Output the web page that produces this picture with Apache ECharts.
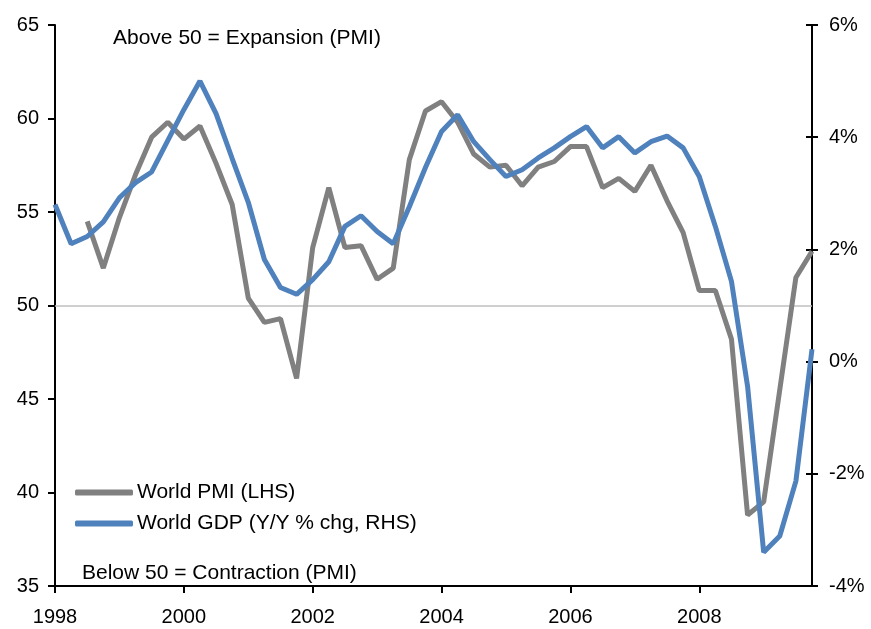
<!DOCTYPE html>
<html>
<head>
<meta charset="utf-8">
<script src="https://cdn.jsdelivr.net/npm/echarts@6/dist/echarts.min.js"></script>
<style>
  html, body { margin: 0; padding: 0; background: #fff; }
  #chart { width: 871px; height: 629px; }
</style>
</head>
<body>
<div id="chart"></div>
<script>
// quarterly, 1998Q1 .. 2009Q4
var quarters = [
  '1998Q1','1998Q2','1998Q3','1998Q4','1999Q1','1999Q2','1999Q3','1999Q4',
  '2000Q1','2000Q2','2000Q3','2000Q4','2001Q1','2001Q2','2001Q3','2001Q4',
  '2002Q1','2002Q2','2002Q3','2002Q4','2003Q1','2003Q2','2003Q3','2003Q4',
  '2004Q1','2004Q2','2004Q3','2004Q4','2005Q1','2005Q2','2005Q3','2005Q4',
  '2006Q1','2006Q2','2006Q3','2006Q4','2007Q1','2007Q2','2007Q3','2007Q4',
  '2008Q1','2008Q2','2008Q3','2008Q4','2009Q1','2009Q2','2009Q3','2009Q4'
];

// World PMI (LHS)
var pmi = [
  null, null, 54.5, 52.0, 54.7, 57.0, 59.0, 59.8,
  58.9, 59.6, 57.6, 55.4, 50.4, 49.1, 49.3, 46.1,
  53.1, 56.3, 53.1, 53.2, 51.4, 52.0, 57.8, 60.4,
  60.9, 59.8, 58.1, 57.4, 57.5, 56.4, 57.4, 57.7,
  58.5, 58.5, 56.3, 56.8, 56.1, 57.5, 55.6, 53.9,
  50.8, 50.8, 48.2, 38.8, 39.5, 45.5, 51.5, 52.9
];

// World GDP, Y/Y % chg (RHS)
var gdp = [
  2.80, 2.10, 2.23, 2.49, 2.92, 3.19, 3.38, 3.94,
  4.49, 5.00, 4.42, 3.62, 2.84, 1.82, 1.32, 1.20,
  1.46, 1.78, 2.41, 2.60, 2.32, 2.10, 2.76, 3.46,
  4.10, 4.40, 3.92, 3.60, 3.30, 3.42, 3.63, 3.81,
  4.01, 4.19, 3.81, 4.01, 3.72, 3.92, 4.02, 3.81,
  3.30, 2.41, 1.43, -0.44, -3.40, -3.11, -2.13, 0.22
];

var font = 'Liberation Sans, Arial, sans-serif';

var chart = echarts.init(document.getElementById('chart'));
chart.setOption({
  animation: false,
  backgroundColor: '#fff',
  grid: { left: 55, right: 59, top: 25, bottom: 43 },
  legend: {
    orient: 'vertical',
    left: 70,
    top: 477,
    itemWidth: 58,
    itemHeight: 6,
    itemGap: 10,
    icon: 'roundRect',
    textStyle: { fontFamily: font, fontSize: 21, color: '#000', padding: [0, 0, 0, -1] },
    data: ['World PMI (LHS)', 'World GDP (Y/Y % chg, RHS)']
  },
  graphic: [
    {
      type: 'text', left: 113, top: 28,
      style: { text: 'Above 50 = Expansion (PMI)', font: '21px ' + font, fill: '#000' }
    },
    {
      type: 'text', left: 82, top: 563,
      style: { text: 'Below 50 = Contraction (PMI)', font: '21px ' + font, fill: '#000' }
    }
  ],
  xAxis: {
    type: 'category',
    data: quarters,
    boundaryGap: false,
    axisLine: { onZero: false, lineStyle: { color: '#000', width: 2 } },
    axisTick: {
      length: 7,
      lineStyle: { color: '#000', width: 2 },
      interval: function (idx) { return idx % 8 === 0; }
    },
    axisLabel: {
      color: '#000', fontFamily: font, fontSize: 20, margin: 21,
      interval: function (idx) { return idx % 8 === 0; },
      formatter: function (v) { return v.slice(0, 4); }
    },
    splitLine: { show: false }
  },
  yAxis: [
    {
      type: 'value', min: 35, max: 65, interval: 5,
      axisLine: { show: true, lineStyle: { color: '#000', width: 2 } },
      axisTick: { show: true, length: 7, lineStyle: { color: '#000', width: 2 } },
      axisLabel: { color: '#000', fontFamily: font, fontSize: 20, margin: 16 },
      splitLine: { show: false }
    },
    {
      type: 'value', min: -4, max: 6, interval: 2, position: 'right',
      axisLine: { show: true, lineStyle: { color: '#000', width: 2 } },
      axisTick: { show: true, length: 6, lineStyle: { color: '#000', width: 2 } },
      axisLabel: { color: '#000', fontFamily: font, fontSize: 20, margin: 17, formatter: '{value}%' },
      splitLine: { show: false }
    },
    {
      // inner half of the crossing ticks on the right axis
      type: 'value', min: -4, max: 6, interval: 2, position: 'right',
      axisLine: { show: false },
      axisTick: { show: true, inside: true, length: 6, lineStyle: { color: '#000', width: 2 } },
      axisLabel: { show: false },
      splitLine: { show: false }
    }
  ],
  series: [
    {
      name: 'World PMI (LHS)',
      type: 'line',
      yAxisIndex: 0,
      data: pmi,
      symbol: 'none',
      color: '#808080',
      lineStyle: { color: '#808080', width: 5 },
      z: 3,
      markLine: {
        silent: true,
        symbol: ['none', 'none'],
        label: { show: false },
        lineStyle: { color: '#bfbfbf', width: 1.5, type: 'solid' },
        data: [{ yAxis: 50 }],
        z: 1
      }
    },
    {
      name: 'World GDP (Y/Y % chg, RHS)',
      type: 'line',
      yAxisIndex: 1,
      data: gdp,
      symbol: 'none',
      color: '#4f81bd',
      lineStyle: { color: '#4f81bd', width: 5 },
      z: 4
    }
  ]
});
</script>
</body>
</html>
